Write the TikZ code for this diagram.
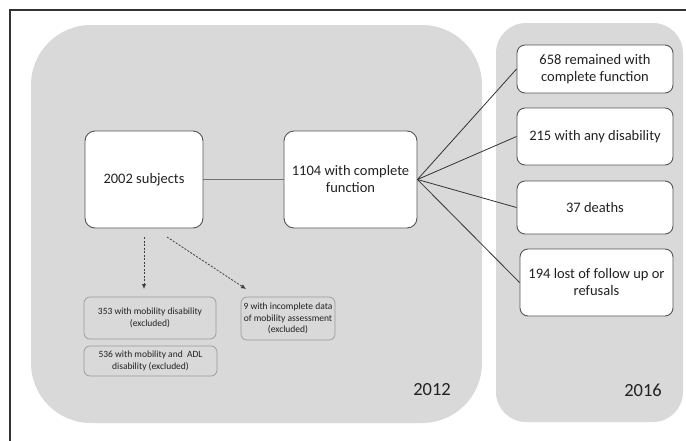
\documentclass[tikz,border=0pt]{standalone}
\usepackage{fontspec}
\setmainfont{Carlito}
\usetikzlibrary{arrows.meta}
\definecolor{panelgray}{HTML}{D9D9D9}
\definecolor{boxline}{HTML}{555555}
\definecolor{txt}{HTML}{222222}
\definecolor{smallline}{HTML}{9A9A9A}
\tikzset{
  panel/.style={fill=panelgray, draw=none},
  mainbox/.style={draw=boxline, line width=0.9pt, fill=white, rounded corners=10pt,
    inner sep=0pt, align=center, text=txt, font=\fontsize{14.5}{17}\selectfont},
  sidebox/.style={draw=boxline, line width=0.9pt, fill=white, rounded corners=8pt,
    inner sep=0pt, align=center, text=txt, font=\fontsize{14.5}{17}\selectfont},
  exbox/.style={draw=smallline, line width=0.7pt, fill=panelgray, rounded corners=6pt,
    inner sep=0pt, align=center, text=txt, font=\fontsize{9.5}{11.5}\selectfont},
  fanline/.style={draw=black!80, line width=0.8pt},
  linkline/.style={draw=black!55, line width=0.7pt},
  dasharrow/.style={draw=black!75, line width=0.8pt, dash pattern=on 2pt off 1.5pt,
    -{Latex[length=5pt,width=4.5pt]}},
  yearlabel/.style={text=txt, font=\fontsize{18.5}{20}\selectfont, inner sep=0pt}
}
\begin{document}
\begin{tikzpicture}[x=1pt,y=-1pt]
\useasboundingbox (0,0) rectangle (686,440);
% frame
\draw[black!80, line width=1.3pt] (10,445) -- (10,10) -- (690,10);
% panels
\fill[panel, rounded corners=60pt] (31,25) rectangle (482,423);
\fill[panel, rounded corners=30pt] (496,23) rectangle (683,422);
% main boxes
\node[mainbox, minimum width=118pt, minimum height=97pt] (s2002) at (144,179.5) {2002 subjects};
\node[mainbox, minimum width=133pt, minimum height=97pt] (c1104) at (350.5,179.5) {1104 with complete\\function};
% 2016 boxes
\node[sidebox, minimum width=156pt, minimum height=48pt] (r658) at (595,69) {658 remained with\\complete function};
\node[sidebox, minimum width=156pt, minimum height=57pt] (r215) at (595,136.5) {215 with any disability};
\node[sidebox, minimum width=156pt, minimum height=53pt] (r37) at (595,207.5) {37 deaths};
\node[sidebox, minimum width=153pt, minimum height=67pt] (r194) at (596.5,282.5) {194 lost of follow up or\\refusals};
% excluded boxes
\node[exbox, minimum width=132pt, minimum height=42pt] (e353) at (150,318) {353 with mobility disability\\(excluded)};
\node[exbox, minimum width=133pt, minimum height=30pt] (e536) at (150.5,361) {536 with mobility and\ \ ADL\\disability (excluded)};
\node[exbox, minimum width=94pt, minimum height=43pt] (e9) at (288,318.5) {9 with incomplete data\\of mobility assessment\\(excluded)};
% years
\node[yearlabel] (y2012) at (432,390) {2012};
\node[yearlabel] (y2016) at (643,390) {2016};
% connectors
\draw[linkline] (s2002.east) -- (c1104.west);
\draw[fanline] (c1104.east) -- (r658.west);
\draw[fanline] (c1104.east) -- (r215.west);
\draw[fanline] (c1104.east) -- (r37.west);
\draw[fanline] (c1104.east) -- (r194.west);
% dashed arrows
\coordinate (a1s) at (144,237);
\coordinate (a1e) at (144,289);
\coordinate (a2s) at (167,237);
\coordinate (a2e) at (246,289);
\draw[dasharrow] (a1s) -- (a1e);
\draw[dasharrow] (a2s) -- (a2e);
\end{tikzpicture}
\end{document}
